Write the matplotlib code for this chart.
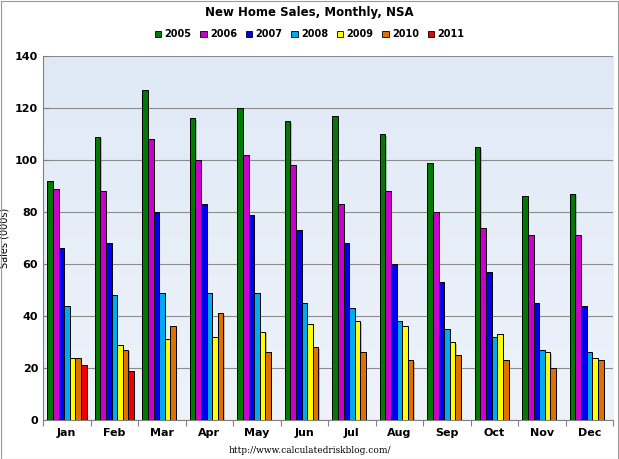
import numpy as np
import matplotlib
matplotlib.use("Agg")
import matplotlib.pyplot as plt
from matplotlib.patches import Patch, Rectangle

MONTHS = ["Jan", "Feb", "Mar", "Apr", "May", "Jun", "Jul", "Aug", "Sep", "Oct", "Nov", "Dec"]
YEARS = ["2005", "2006", "2007", "2008", "2009", "2010", "2011"]
S2005 = [92, 109, 127, 116, 120, 115, 117, 110, 99, 105, 86, 87]
S2006 = [89, 88, 108, 100, 102, 98, 83, 88, 80, 74, 71, 71]
S2007 = [66, 68, 80, 83, 79, 73, 68, 60, 53, 57, 45, 44]
S2008 = [44, 48, 49, 49, 49, 45, 43, 38, 35, 32, 27, 26]
S2009 = [24, 29, 31, 32, 34, 37, 38, 36, 30, 33, 26, 24]
S2010 = [24, 27, 36, 41, 26, 28, 26, 23, 25, 23, 20, 23]
S2011 = [21, 19]
SERIES = [S2005, S2006, S2007, S2008, S2009, S2010, S2011]
COLORS = ["#007a00", "#cc00cc", "#0000f0", "#00aaee", "#ffff00", "#e07000", "#ee0000"]

fig = plt.figure(figsize=(6.19, 4.59), dpi=100)
ax = fig.add_axes([0.0695, 0.085, 0.921, 0.793])

# light blue plot-area gradient
grad = np.linspace(0, 1, 256).reshape(-1, 1)
ax.imshow(grad, extent=[0, 12, 0, 140], aspect="auto", zorder=0,
          cmap=matplotlib.colors.LinearSegmentedColormap.from_list(
              "bg", ["#dfe9f6", "#eef3fa"]), origin="upper")

W = 0.118
x0 = 0.09
for k, (vals, col) in enumerate(zip(SERIES, COLORS)):
    xs = np.arange(len(vals)) + x0 + k * W
    ax.bar(xs + 0.025, np.array(vals) - 0.6, width=W, bottom=0, align="edge",
           color="0.35", alpha=0.35, lw=0, zorder=2)
    ax.bar(xs, vals, width=W, align="edge", color=col, edgecolor="black",
           lw=0.7, zorder=3)

ax.set_xlim(0, 12)
ax.set_ylim(0, 140)
ax.set_yticks(range(0, 141, 20))
ax.set_xticks(range(13))
ax.set_xticklabels([])
ax.set_xticks(np.arange(12) + 0.5, minor=True)
ax.set_xticklabels(MONTHS, minor=True, fontsize=8, fontweight="bold")
ax.tick_params(axis="x", which="minor", length=0, pad=6)
ax.tick_params(axis="x", which="major", length=4, color="0.5", direction="out")
ax.tick_params(axis="y", labelsize=8, length=4, color="0.5", direction="in")
for lab in ax.get_yticklabels():
    lab.set_fontweight("bold")
ax.yaxis.grid(True, color="0.55", lw=0.8, zorder=1)
ax.set_axisbelow(True)
for s in ["top", "right"]:
    ax.spines[s].set_visible(False)
for s in ["left", "bottom"]:
    ax.spines[s].set_color("0.5")
ax.set_ylabel("Sales (000s)", fontsize=7)
ax.yaxis.set_label_coords(-0.058, 0.5)

fig.text(0.5, 0.972, "New Home Sales, Monthly, NSA", ha="center", va="center",
         fontsize=8.5, fontweight="bold")
handles = [Patch(facecolor=c, edgecolor="black", lw=0.6, label=y) for c, y in zip(COLORS, YEARS)]
fig.legend(handles=handles, loc="center", bbox_to_anchor=(0.5, 0.925), ncol=7,
           frameon=False, prop={"weight": "bold", "size": 7},
           handlelength=0.7, handleheight=0.7, handletextpad=0.3, columnspacing=0.9)
fig.text(0.5, 0.018, "http://www.calculatedriskblog.com/", ha="center", va="center",
         fontsize=6.5, family="DejaVu Serif")
fig.patches.append(Rectangle((0.001, 0.001), 0.997, 0.997, transform=fig.transFigure,
                             fill=False, edgecolor="0.6", lw=0.8))

fig.savefig("out.png", dpi=100)
